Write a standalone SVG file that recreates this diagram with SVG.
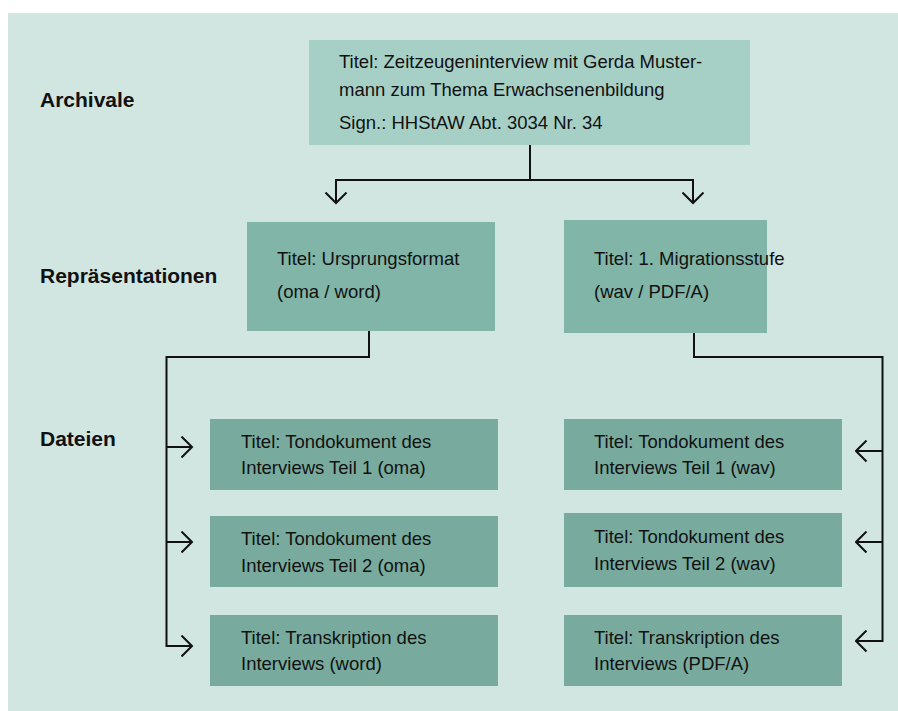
<svg xmlns="http://www.w3.org/2000/svg" width="898" height="711" viewBox="0 0 898 711">
<style>
.t{font-family:"Liberation Sans",Arial,sans-serif;font-size:18.5px;fill:#111}
.b{font-family:"Liberation Sans",Arial,sans-serif;font-size:21px;font-weight:bold;fill:#111}
.c{fill:none;stroke:#111;stroke-width:2}
.top{fill:#a6d0c6}
.rep{fill:#80b5a8}
.file{fill:#78ab9e}
</style>
<defs>
<marker id="arr" viewBox="0 0 13 23" refX="11.5" refY="11.5" markerWidth="13" markerHeight="23" markerUnits="userSpaceOnUse" orient="auto">
<path d="M1,1 L11.5,11.5 L1,22" fill="none" stroke="#111" stroke-width="2"/>
</marker>
</defs>
<rect x="0" y="0" width="898" height="711" fill="#ffffff"/>
<rect x="8" y="13" width="890" height="698" fill="#d1e6e1"/>
<g id="labels">
<text class="b" x="40" y="107">Archivale</text>
<text class="b" x="40" y="283">Repräsentationen</text>
<text class="b" x="40" y="446">Dateien</text>
</g>
<g id="archivale">
<rect class="top" x="309" y="40" width="441" height="105"/>
<text class="t" x="339" y="68">Titel: Zeitzeugeninterview mit Gerda Muster-</text>
<text class="t" x="339" y="96">mann zum Thema Erwachsenenbildung</text>
<text class="t" x="339" y="129">Sign.: HHStAW Abt. 3034 Nr. 34</text>
</g>
<g id="rep1">
<rect class="rep" x="247" y="222" width="248" height="109"/>
<text class="t" x="277" y="265">Titel: Ursprungsformat</text>
<text class="t" x="277" y="298">(oma / word)</text>
</g>
<g id="rep2">
<rect class="rep" x="564" y="220" width="203" height="113"/>
<text class="t" x="594" y="265">Titel: 1. Migrationsstufe</text>
<text class="t" x="594" y="298">(wav / PDF/A)</text>
</g>
<g id="file1">
<rect class="file" x="210" y="419" width="288" height="71"/>
<text class="t" x="241" y="448">Titel: Tondokument des</text>
<text class="t" x="241" y="474">Interviews Teil 1 (oma)</text>
</g>
<g id="file2">
<rect class="file" x="210" y="516" width="288" height="71"/>
<text class="t" x="241" y="545">Titel: Tondokument des</text>
<text class="t" x="241" y="572">Interviews Teil 2 (oma)</text>
</g>
<g id="file3">
<rect class="file" x="210" y="615" width="288" height="71"/>
<text class="t" x="241" y="644">Titel: Transkription des</text>
<text class="t" x="241" y="670">Interviews (word)</text>
</g>
<g id="file4">
<rect class="file" x="564" y="419" width="278" height="71"/>
<text class="t" x="594" y="448">Titel: Tondokument des</text>
<text class="t" x="594" y="474">Interviews Teil 1 (wav)</text>
</g>
<g id="file5">
<rect class="file" x="564" y="513" width="278" height="74"/>
<text class="t" x="594" y="543">Titel: Tondokument des</text>
<text class="t" x="594" y="570">Interviews Teil 2 (wav)</text>
</g>
<g id="file6">
<rect class="file" x="564" y="615" width="278" height="71"/>
<text class="t" x="594" y="644">Titel: Transkription des</text>
<text class="t" x="594" y="670">Interviews (PDF/A)</text>
</g>
<g id="connectors">
<path class="c" d="M530,145 V180"/>
<path class="c" d="M336,180 H693"/>
<path class="c" d="M336,179 V203" marker-end="url(#arr)"/>
<path class="c" d="M693,179 V203" marker-end="url(#arr)"/>
<path class="c" d="M369,331 V357 H166.5 V647"/>
<path class="c" d="M166,447 H192" marker-end="url(#arr)"/>
<path class="c" d="M166,542 H192" marker-end="url(#arr)"/>
<path class="c" d="M166,646 H192" marker-end="url(#arr)"/>
<path class="c" d="M694,333 V357 H882.5 V642"/>
<path class="c" d="M883,451 H856" marker-end="url(#arr)"/>
<path class="c" d="M883,542 H856" marker-end="url(#arr)"/>
<path class="c" d="M883,641 H856" marker-end="url(#arr)"/>
</g>
</svg>
